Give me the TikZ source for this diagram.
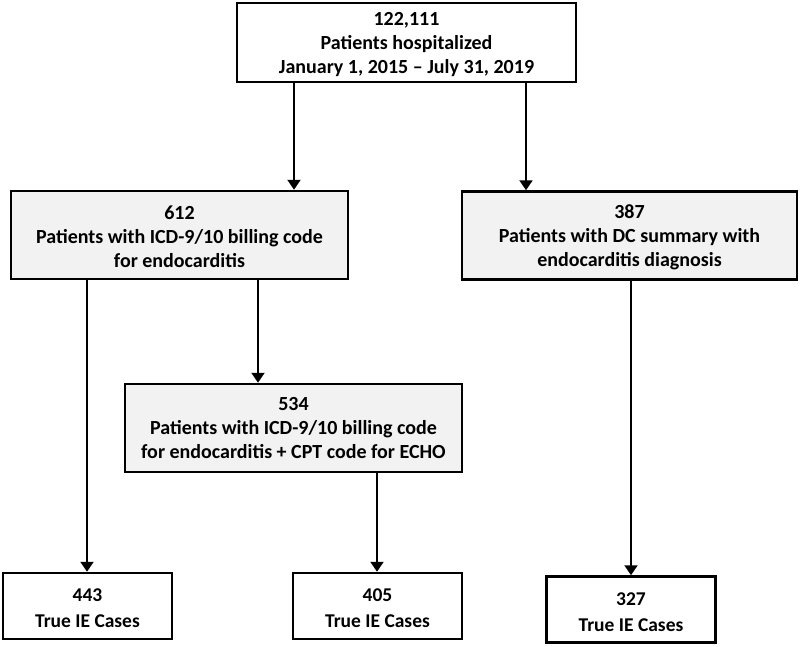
\documentclass[tikz,border=0pt]{standalone}
\usepackage{fontspec}
\setmainfont{Carlito}
\usetikzlibrary{positioning,calc,arrows,arrows.meta}
\definecolor{boxgray}{HTML}{F2F2F2}
\newcommand{\tstrut}{\rule{0pt}{18pt}}
\tikzset{font=\fontsize{20}{24}\selectfont\bfseries}

\begin{document}
\begin{tikzpicture}[x=1pt, y=-1pt]
	\useasboundingbox (0,0) rectangle (800,646);
	\begin{scope}[>={Triangle[width=13pt,length=10pt]}, line width=2pt]
		\tikzstyle{every node}=[align=center, inner sep=0pt, draw, line width=2.5pt]
		\tikzstyle{gbox}=[fill=boxgray, minimum width=337pt, minimum height=88pt]
		\tikzstyle{ibox}=[fill=white, minimum width=169pt, minimum height=66pt, font=\fontsize{19.5}{26}\selectfont\bfseries]
		\node[fill=white, minimum width=339pt, minimum height=79pt] (b0) at (406.5, 42.5) {\tstrut 122,111\\Patients hospitalized\\January 1, 2015 -- July 31, 2019};
		\node[gbox] (b1) at (179.5, 235) {\tstrut 612\\Patients with ICD-9/10 billing code\\for endocarditis};
		\node[gbox, minimum width=335pt] (b2) at (629.5, 235.5) {\tstrut 387\\Patients with DC summary with\\endocarditis diagnosis};
		\node[gbox] (b3) at (293.5, 428) {534\\Patients with ICD-9/10 billing code\\for endocarditis + CPT code for ECHO};
		\node[ibox] (b4) at (87.5, 606) {\tstrut 443\\True IE Cases};
		\node[ibox] (b5) at (377.5, 606) {\tstrut 405\\True IE Cases};
		\node[ibox] (b6) at (631, 609.5) {\tstrut 327\\True IE Cases};

		\draw[->](b0.south -| 294,0) -- (b1.north -| 294,0);
		\draw[->](b0.south -| 526,0) -- (b2.north -| 526,0);
		\draw[->](b1.south -| 87,0)  -- (b4.north -| 87,0);
		\draw[->](b1.south -| 258,0) -- (b3.north -| 258,0);
		\draw[->](b3.south -| 377,0) -- (b5.north -| 377,0);
		\draw[->](b2.south -| 631,0) -- (b6.north -| 631,0);
	\end{scope}
\end{tikzpicture}
\end{document}
